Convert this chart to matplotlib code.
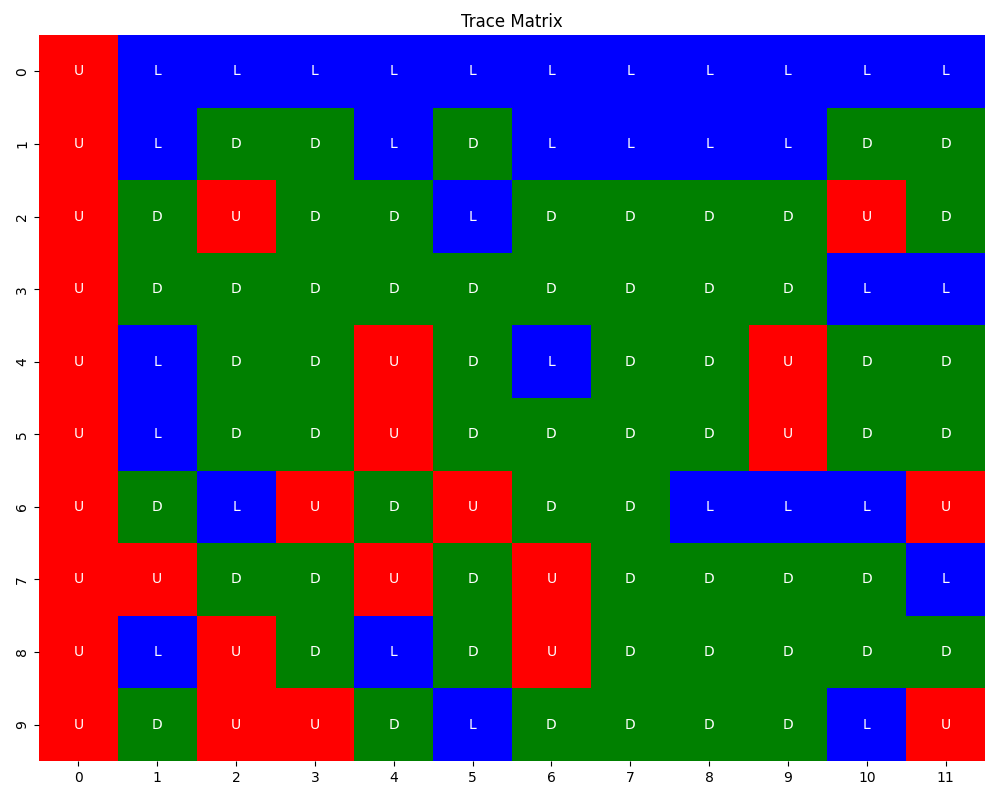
import numpy as np
import matplotlib
matplotlib.use("Agg")
import matplotlib.pyplot as plt
import seaborn as sns
from matplotlib.colors import ListedColormap

# trace directions per cell
rows = [
    "U L L L L L L L L L L L",
    "U L D D L D L L L L D D",
    "U D U D D L D D D D U D",
    "U D D D D D D D D D L L",
    "U L D D U D L D D U D D",
    "U L D D U D D D D U D D",
    "U D L U D U D D L L L U",
    "U U D D U D U D D D D L",
    "U L U D L D U D D D D D",
    "U D U U D L D D D D L U",
]
symbols = ["U", "L", "D"]
colors = ["red", "blue", "green"]

labels = np.array([r.split() for r in rows])
codes = np.vectorize(symbols.index)(labels)

fig, ax = plt.subplots(figsize=(10, 8), dpi=100)
sns.heatmap(codes, cmap=ListedColormap(colors), vmin=-0.5, vmax=2.5,
            annot=labels, fmt="", cbar=False, ax=ax,
            annot_kws={"color": "white", "fontsize": 10})
ax.set_title("Trace Matrix")
fig.subplots_adjust(left=0.039, right=0.985, top=0.956, bottom=0.049)
plt.savefig("out.png", dpi=100)
